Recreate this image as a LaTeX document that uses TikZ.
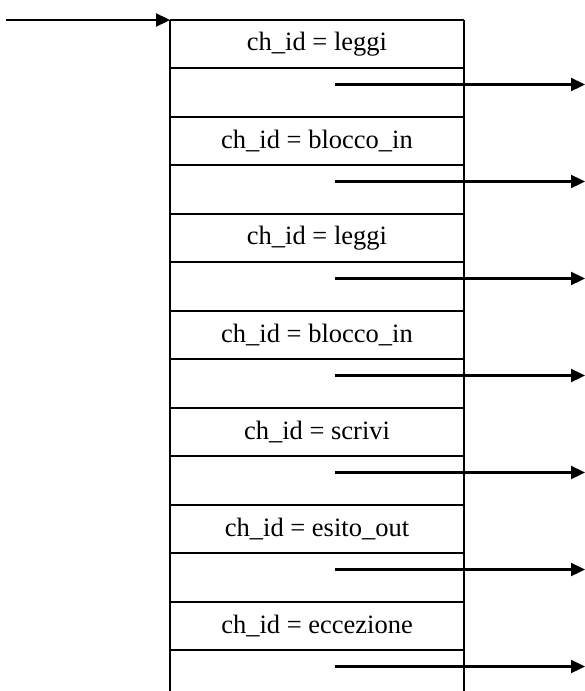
\documentclass[tikz,border=0pt]{standalone}
\usepackage{fontspec}
\setmainfont{Liberation Serif}
\usetikzlibrary{arrows.meta}
\tikzset{
  frame/.style={line width=1.4pt},
  flow/.style={line width=2.3pt, -{Triangle[length=14pt,width=13pt]}},
  hdr/.style={inner sep=0pt, font=\fontsize{26.5}{30}\selectfont},
}
\begin{document}
\begin{tikzpicture}[x=1pt,y=-1pt]
  \useasboundingbox (0,0) rectangle (585,691);
  % side walls of the stack, open at the bottom
  \draw[frame] (170,20) -- (170,691);
  \draw[frame] (464,20) -- (464,691);
  % entry point
  \coordinate (entry) at (6,20);
  \coordinate (top) at (170,20);
  \draw[flow] (entry) -- (top);
  % one header + one body row per channel
  \foreach \lbl [count=\i from 0] in {leggi, blocco\_in, leggi, blocco\_in, scrivi, esito\_out, eccezione} {
    \pgfmathsetmacro{\ytop}{20+97*\i}
    \pgfmathsetmacro{\ysep}{68+97*\i}
    \draw[frame] (170,\ytop) -- (464,\ytop);
    \draw[frame] (170,\ysep) -- (464,\ysep);
    \node[hdr] (h\i) at (317,{44+97*\i}) {ch\_id = \lbl};
    \coordinate (s\i) at (335,{84.5+97*\i});
    \coordinate (t\i) at (585,{84.5+97*\i});
    \draw[flow] (s\i) -- (t\i);
  }
\end{tikzpicture}
\end{document}
